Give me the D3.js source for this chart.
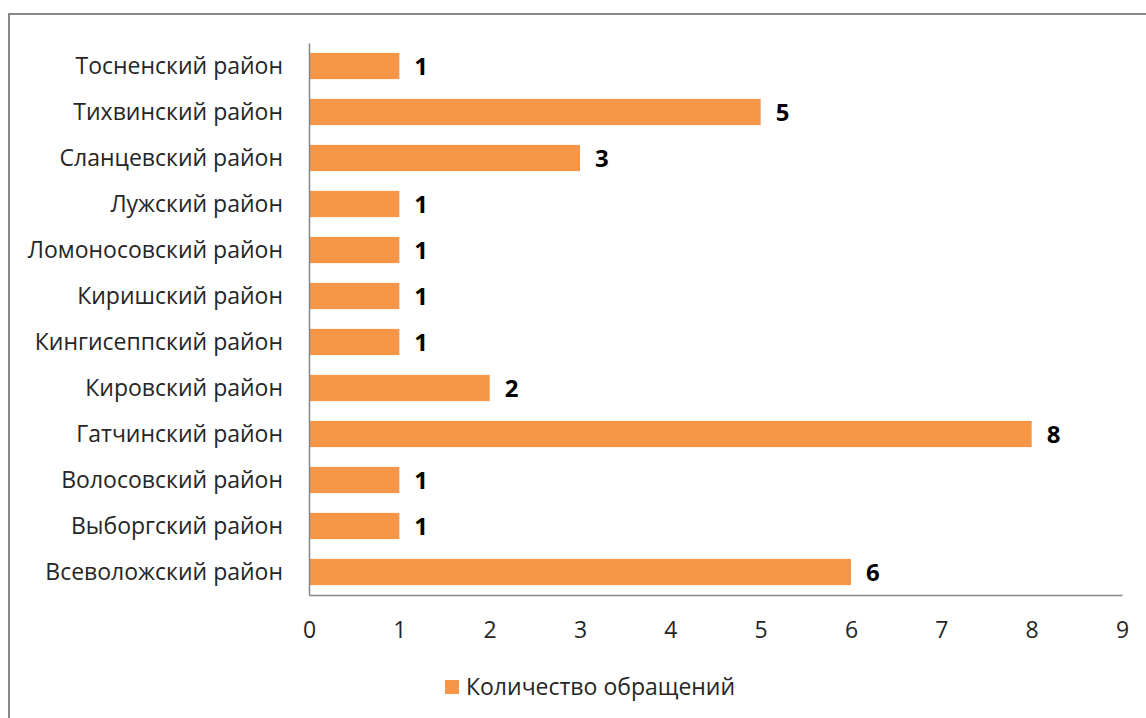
<!DOCTYPE html>
<html>
<head>
<meta charset="utf-8">
<script src="https://cdn.jsdelivr.net/npm/d3@7"></script>
<style>
  body { margin: 0; background: #fff; }
  text { font-family: "Open Sans", sans-serif; fill: #262626; }
</style>
</head>
<body>
<script>
'use strict';

// chart data, top to bottom as drawn
const districts = [
  "Тосненский район", "Тихвинский район", "Сланцевский район", "Лужский район",
  "Ломоносовский район", "Киришский район", "Кингисеппский район", "Кировский район",
  "Гатчинский район", "Волосовский район", "Выборгский район", "Всеволожский район"
];
const requests = [1, 5, 3, 1, 1, 1, 1, 2, 8, 1, 1, 6];
const xTicks = [0, 1, 2, 3, 4, 5, 6, 7, 8, 9];
const seriesName = "Количество обращений";

const width = 1146, height = 718;
const plotLeft = 309, plotRight = 1122, plotTop = 43, plotBottom = 595;

const svg = d3.select("body").append("svg")
  .attr("width", width)
  .attr("height", height);

// outer frame (only left and top edges are visible in the crop)
svg.append("rect")
  .attr("x", 9).attr("y", 14)
  .attr("width", 1160).attr("height", 720)
  .attr("fill", "none")
  .attr("stroke", "#888")
  .attr("stroke-width", 2);

let x = d3.scaleLinear().domain([0, 9]).range([plotLeft, plotRight]);
let y = d3.scaleBand().domain(districts).range([plotTop, plotBottom]).paddingInner(0.43).paddingOuter(0.215);

// bars
svg.selectAll(".bar")
  .data(districts)
  .enter()
  .append("rect")
    .attr("class", "bar")
    .attr("x", x(0))
    .attr("y", d => y(d))
    .attr("width", (d, i) => x(requests[i]) - x(0))
    .attr("height", y.bandwidth())
    .attr("fill", "#F79646");

// value labels
svg.selectAll(".val")
  .data(districts)
  .enter()
  .append("text")
    .attr("class", "val")
    .attr("x", (d, i) => x(requests[i]) + 15)
    .attr("y", d => y(d) + y.bandwidth() / 2)
    .attr("dy", "0.38em")
    .style("font-size", "24px")
    .style("font-weight", "bold")
    .style("fill", "#000")
    .text((d, i) => requests[i]);

// category axis
let yAxis = svg.append("g")
  .attr("transform", `translate(${plotLeft}, 0)`)
  .call(d3.axisLeft(y).tickSize(0).tickPadding(26));
yAxis.select(".domain").attr("stroke", "#868686").attr("stroke-width", 1.5);
yAxis.selectAll("text")
  .style("font-size", "23px")
  .style("font-family", "'Open Sans', sans-serif")
  .attr("dy", "0.36em")
  .attr("fill", "#262626");

// value axis
let xAxis = svg.append("g")
  .attr("transform", `translate(0, ${plotBottom})`)
  .call(d3.axisBottom(x).tickValues(xTicks).tickSize(0).tickPadding(27).tickFormat(d3.format("d")));
xAxis.select(".domain").attr("stroke", "#868686").attr("stroke-width", 1.5);
xAxis.selectAll("text")
  .style("font-size", "23px")
  .style("font-family", "'Open Sans', sans-serif")
  .attr("fill", "#262626");

// legend
let legend = svg.append("g").attr("transform", "translate(445, 680)");
legend.append("rect")
  .attr("width", 14).attr("height", 14)
  .attr("fill", "#F79646");
legend.append("text")
  .attr("x", 21).attr("y", 7)
  .attr("dy", "0.36em")
  .style("font-size", "23px")
  .text(seriesName);
</script>
</body>
</html>
